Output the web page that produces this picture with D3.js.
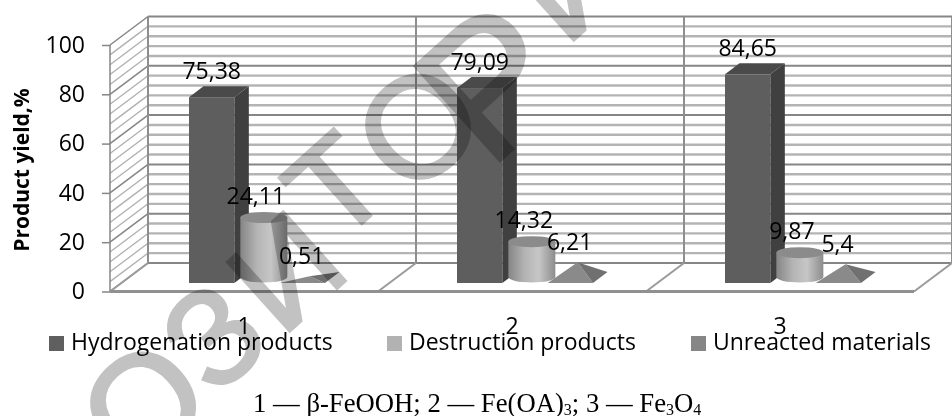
<!DOCTYPE html>
<html><head><meta charset="utf-8">
<script src="https://cdn.jsdelivr.net/npm/d3@7"></script>
<style>
html,body{margin:0;padding:0;background:#fff;overflow:hidden}
svg{display:block}
text{fill:#000}
</style></head><body><svg id="c" width="952" height="416"></svg>
<script>
const categories = ["1","2","3"];
const seriesNames = ["Hydrogenation products","Destruction products","Unreacted materials"];
const hydrogenation = [75.38,79.09,84.65];
const destruction = [24.11,14.32,9.87];
const unreacted = [0.51,6.21,5.4];
const labelsHydrogenation = ["75,38","79,09","84,65"];
const labelsDestruction = ["24,11","14,32","9,87"];
const labelsUnreacted = ["0,51","6,21","5,4"];
const yTicks = [0,20,40,60,80,100];
const minorTicks = d3.range(0,101,4);
const swatchColors = ["#5f5f5f","#b2b2b2","#868686"];
const watermarkLetters = ["О","З","И","Т","О","Р","И"];

const svg = d3.select("#c");
const sans = "'Open Sans'";
const defs = svg.append("defs");
const grad = defs.append("linearGradient").attr("id","cyl");
[[0,"#858585"],[.35,"#b4b4b4"],[.65,"#c6c6c6"],[1,"#8c8c8c"]].forEach(s=>grad.append("stop").attr("offset",s[0]).attr("stop-color",s[1]));

// scales
const y = d3.scaleLinear().domain([0,100]).range([291.5,45]);
const h = v => y(0)-y(v);
const x0 = d3.scaleBand().domain(categories).range([110,914]);
const x1 = d3.scaleBand().domain(seriesNames).range([79,215]);
const DX=38, DY=-28.5;     // full wall depth

// walls
const g = svg.append("g");
const major = "#868686", minor="#b4b4b4";
minorTicks.forEach(v=>{
  const isMajor = yTicks.includes(v);
  g.append("line").attr("x1",110).attr("y1",y(v)).attr("x2",110+DX).attr("y2",y(v)+DY)
    .attr("stroke",isMajor?major:"#b0b0b0").attr("stroke-width",isMajor?1.5:1.3);
  g.append("line").attr("x1",110+DX).attr("y1",y(v)+DY).attr("x2",914+DX).attr("y2",y(v)+DY)
    .attr("stroke",isMajor?major:minor).attr("stroke-width",isMajor?2:2.4);
});
x0.domain().concat("end").forEach((c,i)=>{
  const xb = x0.range()[0]+i*x0.step();
  g.append("line").attr("x1",xb+DX).attr("x2",xb+DX).attr("y1",y(0)+DY).attr("y2",y(100)+DY).attr("stroke","#8e8e8e").attr("stroke-width",2);
  g.append("line").attr("x1",xb).attr("x2",xb+DX).attr("y1",y(0)).attr("y2",y(0)+DY).attr("stroke","#9a9a9a").attr("stroke-width",2);
});
g.append("line").attr("x1",110).attr("x2",110).attr("y1",y(0)).attr("y2",y(100)).attr("stroke",major).attr("stroke-width",1.5);
g.append("line").attr("x1",110).attr("x2",914).attr("y1",y(0)).attr("y2",y(0)).attr("stroke","#909090").attr("stroke-width",3);

// axes
const ax = svg.append("g").attr("transform","translate(110,0)")
  .call(d3.axisLeft(y).tickValues(yTicks).tickSize(8).tickPadding(17));
ax.select(".domain").remove();
ax.selectAll("line").attr("stroke",major).attr("stroke-width",1.5);
ax.selectAll("text").attr("font-family",sans).attr("font-size",23).style("fill","#000");
const bx = svg.append("g").attr("transform","translate(0,334)")
  .call(d3.axisBottom(x0).tickSize(0).tickPadding(0));
bx.select(".domain").remove();
bx.selectAll("text").attr("font-family",sans).attr("font-size",23).attr("dy",0).attr("y",0).style("fill","#000");

svg.append("text").attr("transform","translate(29,170) rotate(-90)").attr("text-anchor","middle")
  .attr("font-family",sans).attr("font-weight",700).attr("font-size",21).text("Product yield,%");

// marks
const baseY = 283, cylY = 277, depthX = 14.5, depthY = -11;
const poly = (pts,fill)=>svg.append("polygon").attr("points",pts.map(p=>p.join(",")).join(" ")).attr("fill",fill);
categories.forEach((c,i)=>{
  const left = x0(c);
  // bar
  const bx0 = left+x1(seriesNames[0]), bw = x1.bandwidth(), top = baseY-h(hydrogenation[i]);
  poly([[bx0+bw,top],[bx0+bw+depthX,top+depthY],[bx0+bw+depthX,baseY+depthY],[bx0+bw,baseY]],"#404040");
  poly([[bx0,top],[bx0+depthX,top+depthY],[bx0+bw+depthX,top+depthY],[bx0+bw,top]],"#4a4a4a");
  svg.append("rect").attr("x",bx0).attr("y",top).attr("width",bw).attr("height",h(hydrogenation[i])).attr("fill","#5e5e5e");
  svg.append("text").attr("x",bx0+bw/2).attr("y",top-18).attr("text-anchor","middle").attr("font-family",sans).attr("font-size",23).text(labelsHydrogenation[i]);

  // pyramid
  const px = left+x1(seriesNames[2]), pw = x1.bandwidth(), apexX = px+pw/2+depthX/2, pb = baseY, apexY = pb+depthY/2-h(unreacted[i]);
  const fl=[px,pb], fr=[px+pw,pb], br=[px+pw+depthX,pb+depthY];
  poly([fl,fr,[apexX,apexY]],"#8a8a8a");
  poly([fr,br,[apexX,apexY]],"#707070");

  // cylinder
  const cx0 = left+x1(seriesNames[1])+6, cw=47, cx=cx0+cw/2, ry=5.5, ct=cylY-h(destruction[i]);
  svg.append("path").attr("d",`M${cx0},${ct}V${cylY}A${cw/2},${ry} 0 0 0 ${cx0+cw},${cylY}V${ct}Z`).attr("fill","url(#cyl)");
  svg.append("ellipse").attr("cx",cx).attr("cy",ct).attr("rx",cw/2).attr("ry",ry).attr("fill","#8b8b8b");
  svg.append("text").attr("x",cx-8).attr("y",ct-13.5).attr("text-anchor","middle").attr("font-family",sans).attr("font-size",23).text(labelsDestruction[i]);
  svg.append("text").attr("x",apexX-8).attr("y",apexY-12).attr("text-anchor","middle").attr("font-family",sans).attr("font-size",23).text(labelsUnreacted[i]);
});

// legend
const legendX = [49,387,691];
seriesNames.forEach((s,i)=>{
  svg.append("rect").attr("x",legendX[i]).attr("y",336).attr("width",15).attr("height",15).attr("fill",swatchColors[i]);
  svg.append("text").attr("x",legendX[i]+22).attr("y",350).attr("font-family",sans).attr("font-size",23).text(s);
});

// caption
const cap = svg.append("text").attr("x",253).attr("y",412).attr("font-family","'Liberation Serif'").attr("font-size",26.7);
cap.append("tspan").text("1 — β-FeOOH; 2 — Fe(OA)");
cap.append("tspan").attr("font-size",16).attr("dy",3).text("3");
cap.append("tspan").attr("dy",-3).text("; 3 — Fe");
cap.append("tspan").attr("font-size",16).attr("dy",3).text("3");
cap.append("tspan").attr("dy",-3).text("O");
cap.append("tspan").attr("font-size",16).attr("dy",3).text("4");

// watermark
const wmX = [142,212,285,335,417,490,569], wmY = [403,335,270,185,125,80,-21], wmS=[143,135,135,130,143,185,135];
watermarkLetters.forEach((l,i)=>{
  svg.append("text").attr("transform",`translate(${wmX[i]},${wmY[i]}) rotate(-42)`)
    .attr("y",wmS[i]*0.36).attr("text-anchor","middle")
    .attr("font-family","'Liberation Sans'").attr("font-size",wmS[i])
    .style("fill","#c2c2c2").attr("stroke","#c2c2c2").attr("stroke-width",3)
    .style("mix-blend-mode","multiply").text(l);
});
</script></body></html>
